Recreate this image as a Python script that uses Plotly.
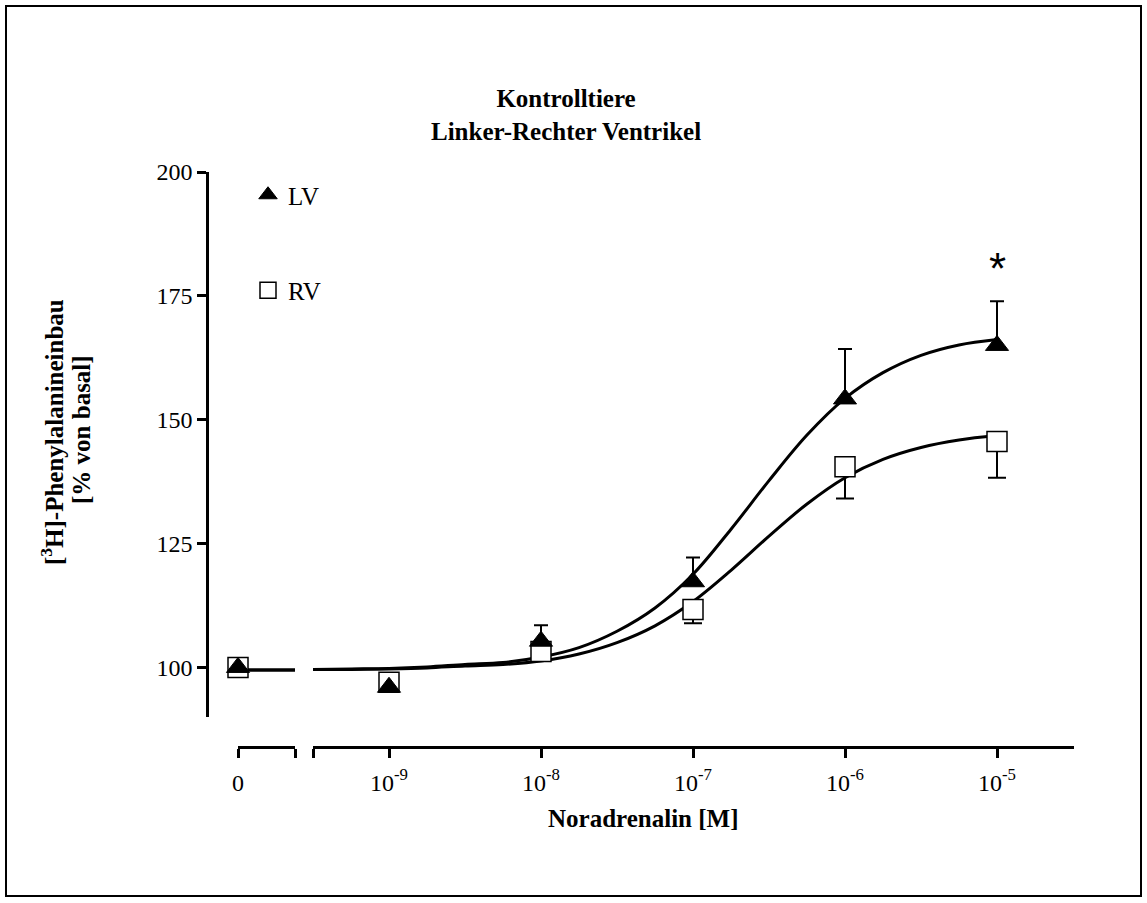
import plotly.graph_objects as go

W, H = 1147, 903

# Noradrenaline dose steps (log10 M) following the zero control
log_conc = [-9, -8, -7, -6, -5]
dose_labels = ["10<sup>-9</sup>", "10<sup>-8</sup>", "10<sup>-7</sup>",
               "10<sup>-6</sup>", "10<sup>-5</sup>"]

# [3H]-phenylalanine incorporation, % of basal (mean and SEM)
lv_zero = 100.0
lv_mean = [96.0, 105.3, 117.3, 154.2, 165.0]
lv_sem = [0.0, 3.2, 4.9, 10.1, 8.9]

rv_zero = 100.0
rv_mean = [97.0, 103.2, 111.7, 140.5, 145.6]
rv_sem = [0.0, 0.0, 2.8, 6.4, 7.3]

# sigmoidal concentration-response fits, sampled every quarter decade
fit_log_conc = [-9.5, -9.25, -9.0, -8.75, -8.5, -8.25, -8.0, -7.75, -7.5, -7.25,
                -7.0, -6.75, -6.5, -6.25, -6.0, -5.75, -5.5, -5.25, -5.0]
lv_fit = [99.6, 99.7, 99.8, 100.1, 100.6, 101.0, 102.1, 104.0, 107.3, 112.0,
          118.8, 127.9, 137.7, 146.9, 154.3, 159.5, 163.0, 165.1, 166.2]
rv_fit = [99.6, 99.6, 99.7, 99.9, 100.3, 100.6, 101.3, 102.7, 105.0, 108.4,
          113.3, 119.6, 126.5, 133.0, 138.3, 142.0, 144.4, 145.9, 146.8]
fit_bottom = 99.5

SERIF = "Liberation Serif"


def px(x):
    return x / W


def py(y):
    return 1 - y / H


fig = go.Figure()

line_style = dict(color="black", width=3, shape="spline", smoothing=1.0)

# fitted curves
for fit in (lv_fit, rv_fit):
    fig.add_trace(go.Scatter(x=fit_log_conc, y=fit, mode="lines", line=line_style,
                             showlegend=False, hoverinfo="skip"))
    fig.add_trace(go.Scatter(x=[0, 1], y=[fit_bottom, fit_bottom], mode="lines",
                             line=line_style, xaxis="x2", showlegend=False,
                             hoverinfo="skip"))

lv_marker = dict(symbol="triangle-up", size=20, color="black",
                 line=dict(color="black", width=1))
rv_marker = dict(symbol="square", size=20, color="white",
                 line=dict(color="black", width=1.5))

# RV: squares, SEM drawn downwards
fig.add_trace(go.Scatter(
    x=log_conc, y=rv_mean, mode="markers", name="RV", marker=rv_marker,
    legendgroup="rv", legendrank=2, cliponaxis=False,
    error_y=dict(type="data", symmetric=False, array=[0] * len(rv_sem),
                 arrayminus=rv_sem, color="black", thickness=2, width=9),
))
fig.add_trace(go.Scatter(x=[0], y=[rv_zero], mode="markers", marker=rv_marker,
                         xaxis="x2", showlegend=False, cliponaxis=False))

# LV: filled triangles, SEM drawn upwards
fig.add_trace(go.Scatter(
    x=log_conc, y=lv_mean, mode="markers", name="LV", marker=lv_marker,
    legendgroup="lv", legendrank=1, cliponaxis=False,
    error_y=dict(type="data", symmetric=False, array=lv_sem,
                 arrayminus=[0] * len(lv_sem), color="black", thickness=2, width=7),
))
fig.add_trace(go.Scatter(x=[0], y=[lv_zero], mode="markers", marker=lv_marker,
                         xaxis="x2", showlegend=False, cliponaxis=False))

axis_common = dict(
    showline=True, linecolor="black", linewidth=2.5,
    ticks="outside", ticklen=9, tickwidth=2.5, tickcolor="black",
    showgrid=False, zeroline=False, automargin=False,
    tickfont=dict(family=SERIF, size=24, color="black"),
)

fig.update_layout(
    width=W, height=H,
    margin=dict(l=0, r=0, t=0, b=0),
    paper_bgcolor="white", plot_bgcolor="white",
    font=dict(family=SERIF, color="black"),
    xaxis=dict(
        domain=[px(313), px(1074)], range=[-9.5, -9 + (1074 - 389) / 152],
        anchor="free", position=py(747), ticklabelstandoff=4,
        tickmode="array", tickvals=[-9.5] + log_conc, ticktext=[" "] + dose_labels,
        **axis_common,
    ),
    xaxis2=dict(
        domain=[px(238), px(295)], range=[0, 1],
        anchor="free", position=py(747), ticklabelstandoff=4,
        tickmode="array", tickvals=[0, 1], ticktext=["0", " "],
        **axis_common,
    ),
    yaxis=dict(
        domain=[py(717), py(172)], range=[90, 200],
        anchor="free", position=px(207),
        tickmode="array", tickvals=[100, 125, 150, 175, 200],
        **axis_common,
    ),
    legend=dict(
        x=px(248), y=py(172), xanchor="left", yanchor="top",
        font=dict(family=SERIF, size=25, color="black"),
        bgcolor="rgba(0,0,0,0)", traceorder="grouped", tracegroupgap=60,
    ),
    showlegend=True,
    shapes=[dict(type="rect", xref="paper", yref="paper",
                 x0=px(6), x1=px(1141), y0=py(896), y1=py(6),
                 line=dict(color="black", width=2))],
    annotations=[
        dict(text="<b>Kontrolltiere</b><br><b>Linker-Rechter Ventrikel</b>",
             x=px(566), y=py(115), xref="paper", yref="paper",
             xanchor="center", yanchor="middle",
             showarrow=False, font=dict(family=SERIF, size=25)),
        dict(text="<b>Noradrenalin [M]</b>",
             x=px(643), y=py(818), xref="paper", yref="paper",
             xanchor="center", yanchor="middle",
             showarrow=False, font=dict(family=SERIF, size=25)),
        dict(text="<b>[<sup>3</sup>H]-Phenylalanineinbau</b>",
             x=px(52), y=py(432), xref="paper", yref="paper", textangle=-90,
             xanchor="center", yanchor="middle",
             showarrow=False, font=dict(family=SERIF, size=25)),
        dict(text="<b>[% von basal]</b>",
             x=px(81), y=py(430), xref="paper", yref="paper", textangle=-90,
             xanchor="center", yanchor="middle",
             showarrow=False, font=dict(family=SERIF, size=25)),
        dict(text="*", x=-5, y=180.5, xref="x", yref="y", showarrow=False,
             xanchor="center", yanchor="middle",
             font=dict(family="Liberation Sans", size=44)),
    ],
)

fig.write_html("out.html")
